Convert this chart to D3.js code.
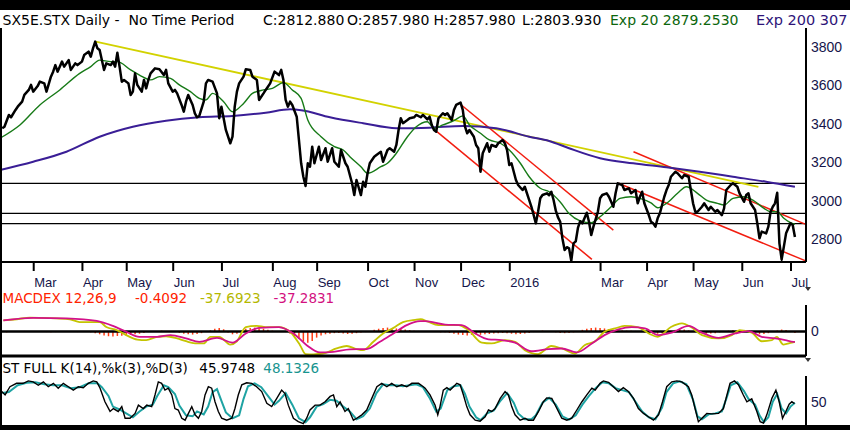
<!doctype html>

<html>
  <head>
    <script src="https://d3js.org/d3.v7.min.js"></script>
    <style>
      body { margin: 0; background: #fff; }
      svg { display: block; }
    </style>
  </head>
  <body>
    <div id="graphic"></div>
    <script>

// all series are [trading day, value], day 0 = 9 Feb 2015
var closes = [
  [1,3378],[2,3386],[4,3447],[5,3435],[7,3473],[8,3490],[10,3516],[11,3551],[13,3577],[14,3603],
  [15,3568],[17,3597],[18,3620],[20,3611],[21,3568],[23,3646],[24,3672],[25,3706],[26,3672],[28,3724],
  [29,3698],[31,3732],[32,3681],[34,3715],[35,3706],[37,3724],[38,3758],[40,3776],[41,3750],[42,3793],
  [43,3828],[44,3793],[45,3784],[47,3681],[48,3715],[50,3706],[51,3724],[52,3698],[53,3770],[54,3698],
  [55,3620],[56,3629],[58,3611],[59,3551],[60,3568],[61,3663],[62,3603],[64,3568],[65,3629],[66,3585],
  [67,3629],[68,3663],[70,3689],[72,3684],[74,3654],[75,3681],[76,3611],[78,3568],[79,3577],[80,3559],
  [82,3499],[83,3464],[84,3516],[85,3551],[87,3499],[88,3455],[89,3435],[90,3442],[92,3516],[93,3611],
  [94,3629],[96,3620],[98,3559],[99,3430],[100,3490],[101,3430],[102,3369],[104,3300],[105,3334],[106,3490],
  [107,3568],[108,3611],[110,3646],[111,3684],[113,3681],[114,3646],[116,3629],[117,3525],[119,3559],[120,3577],
  [122,3611],[124,3672],[126,3654],[127,3681],[128,3629],[129,3525],[130,3490],[131,3516],[132,3499],[134,3438],
  [135,3317],[136,3196],[137,3126],[138,3078],[139,3196],[140,3178],[141,3282],[142,3196],[144,3282],[145,3213],
  [147,3274],[148,3204],[150,3274],[151,3204],[153,3178],[154,3265],[156,3196],[157,3178],[159,3092],[160,3031],
  [161,3109],[163,3031],[164,3100],[165,3074],[166,3144],[167,3196],[169,3230],[170,3239],[172,3256],[173,3204],
  [175,3265],[176,3274],[178,3256],[179,3291],[180,3369],[181,3430],[182,3404],[184,3421],[185,3430],[187,3435],
  [188,3447],[190,3435],[191,3447],[193,3424],[194,3438],[195,3395],[196,3369],[197,3360],[198,3430],[200,3456],
  [201,3447],[202,3456],[204,3421],[205,3473],[206,3499],[208,3511],[209,3473],[210,3386],[211,3352],[212,3369],
  [214,3334],[215,3291],[216,3274],[217,3152],[218,3248],[220,3300],[221,3256],[222,3291],[224,3282],[225,3300],
  [227,3317],[228,3300],[229,3265],[230,3187],[231,3196],[233,3109],[234,3083],[236,3057],[237,3074],[239,3005],
  [240,2970],[242,2884],[243,2944],[244,3014],[245,3031],[247,3040],[248,3030],[249,3048],[250,3005],[251,2950],
  [252,2915],[253,2892],[254,2805],[255,2745],[256,2760],[257,2754],[258,2690],[259,2780],[260,2790],[261,2860],
  [262,2895],[263,2884],[265,2939],[266,2892],[267,2823],[268,2867],[270,2944],[271,3014],[272,3031],[274,3040],
  [275,3022],[277,2970],[278,3040],[279,3092],[281,3083],[282,3057],[284,3066],[285,3040],[287,3057],[288,2988],
  [289,3022],[290,3048],[291,2988],[293,2927],[294,2892],[295,2884],[296,2867],[297,2910],[298,2936],[300,3022],
  [301,3057],[302,3083],[303,3126],[305,3152],[306,3144],[308,3118],[309,3135],[311,3126],[312,3057],[313,2988],
  [314,2944],[315,2944],[317,2970],[318,2988],[320,2953],[321,2970],[323,2944],[324,2953],[326,2927],[327,2962],
  [328,3057],[330,3083],[331,3092],[333,3074],[334,3040],[336,2996],[337,3031],[338,3040],[339,2988],[341,2953],
  [342,2884],[343,2806],[344,2841],[346,2832],[347,2867],[348,2944],[349,2970],[350,2988],[351,3043],[352,2780],
  [353,2697],[354,2763],[355,2832],[357,2884],[358,2875],[359,2813]
];

var ema20 = [
  [0,3326],[9,3395],[18,3499],[27,3577],[36,3663],[41,3698],[45,3732],[50,3724],[53,3724],[59,3681],
  [63,3654],[68,3629],[72,3646],[77,3637],[81,3603],[86,3568],[90,3533],[93,3525],[96,3559],[101,3516],
  [105,3464],[110,3507],[114,3559],[119,3577],[123,3585],[128,3615],[132,3577],[136,3533],[139,3421],[145,3334],
  [151,3282],[155,3265],[158,3230],[163,3178],[166,3144],[172,3178],[175,3196],[179,3248],[184,3334],[188,3386],
  [193,3412],[196,3378],[200,3395],[205,3417],[209,3442],[212,3395],[217,3352],[221,3317],[226,3300],[230,3265],
  [235,3196],[239,3126],[244,3066],[248,3048],[253,2995],[257,2935],[262,2897],[267,2887],[271,2918],[276,2970],
  [280,3014],[285,3022],[289,3014],[294,2990],[297,2965],[301,2988],[306,3040],[310,3074],[315,3040],[319,3005],
  [324,2988],[327,2979],[331,3014],[336,3022],[340,3005],[345,2962],[348,2944],[351,2944],[354,2910],[357,2887],
  [359,2879]
];

var ema200 = [
  [0,3161],[15,3204],[30,3256],[45,3334],[60,3386],[75,3417],[90,3435],[105,3442],[120,3459],[131,3476],
  [136,3472],[149,3435],[164,3404],[179,3378],[194,3381],[209,3390],[224,3378],[239,3334],[248,3312],[257,3274],
  [271,3222],[286,3196],[301,3175],[316,3152],[331,3126],[346,3100],[359,3074]
];

var levels = [3092, 2936, 2882];
var yellowTrend = [[43.2,3828],[342.5,3074]];
var redTrends = [
  [[207.8,3504],[277,2849]],
  [[197.3,3360],[267.3,2697]],
  [[286.1,3256],[363.6,2880]],
  [[279.3,3092],[363.6,2690]]
];
var lowMarks = [258, 353];
var priceTicks = [2800, 3000, 3200, 3400, 3600, 3800];

var monthLabels = ["Mar","Apr","May","Jun","Jul","Aug","Sep","Oct","Nov","Dec","2016","Mar","Apr","May","Jun","Jul"];
var monthTickDays = [15, 37, 57, 78, 100, 123, 143, 166, 187, 208, 230, 271, 292, 313, 335, 357];

var macdLine = [
  [1.5,40],[7.5,44],[13.5,50],[19.6,49],[25.6,47],[31.6,44],[36,34],[40.7,34],[45,34],[48,16],
  [52.7,5],[57,-13],[62,-29],[66,-31],[71,-19],[75,-17],[80,-25],[84,-35],[89,-43],[92,-43],
  [95,-19],[99,-19],[104,-47],[107,-35],[111,16],[116,20],[120,16],[126,16],[131,-1],[135.5,-49],
  [138,-81],[141.5,-82],[146,-79],[152,-61],[156.6,-52],[161,-63],[164,-67],[168.6,-37],[173,-7],[177.7,13],
  [182,34],[187.5,42],[190,44],[193,36],[198,23],[207,23],[211.5,5],[217.6,-40],[222,-43],[228,-31],
  [232.6,-37],[237,-67],[243,-81],[249,-52],[253.7,-61],[259.7,-79],[264,-49],[268.8,-35],[273,-1],[277.8,11],
  [282,20],[288,16],[293,-7],[297,-19],[303,16],[308,29],[312,16],[317,-13],[324.5,-25],[330.5,-13],
  [334,5],[339.5,-4],[344,-35],[348.6,-31],[350.8,-19],[353.8,-47],[357.6,-40],[359,-37.7]
];

var macdSignal = [
  [1.5,40],[15,49],[30,47],[43.7,38],[51,20],[57,-1],[63,-19],[71,-19],[77,-13],[84,-25],
  [90,-37],[98,-23],[105,-40],[111,-7],[117,13],[126,16],[132.5,-7],[138.5,-49],[144.5,-75],[150.5,-73],
  [158,-64],[165.6,-63],[171.6,-37],[177.7,-7],[183.7,23],[189.7,37],[192,37],[201,25],[208.5,23],[214.6,-7],
  [220.6,-28],[226.6,-31],[232.6,-40],[240,-71],[247.7,-63],[253.7,-61],[260.5,-75],[267.3,-43],[273,-13],[279.3,8],
  [285.3,16],[291.3,11],[297.4,-13],[303.4,-4],[311,20],[317,-4],[324.5,-23],[332,-7],[338,1],[344,-19],
  [350,-25],[354.6,-31],[358.3,-37],[359,-37.3]
];

// histogram, one bar every 2 trading days starting at day 1
var macdHist = [
  -2,-3,-2,-1,1,2,1,0,-1,-2,  -2,-3,-2,-1,0,1,-1,-2,-1,0,
  -3,-6,-10,-14,-17,-18,-16,-15,-14,-12,  -10,-8,-5,-2,1,2,3,2,0,-2,
  -5,-8,-10,-11,-9,-6,-2,4,10,13,  8,-4,-10,-8,2,10,13,14,12,10,
  6,3,2,1,-2,-8,-16,-26,-36,-40,  -34,-22,-14,-10,-8,-6,-5,-7,-9,-8,
  -6,-4,-2,2,6,10,13,14,13,11,  9,7,5,3,2,1,0,-1,-2,-3,
  -3,-5,-8,-11,-13,-14,-12,-11,-12,-10,  -9,-7,-6,-5,-6,-8,-10,-9,-7,-5,
  -2,1,3,2,-1,-3,-5,-6,-5,-3,  2,6,10,13,14,13,11,9,7,5,
  4,3,3,2,0,-3,-6,-8,-8,-6,  -2,3,6,8,7,4,0,-4,-7,-8,
  -7,-6,-3,0,3,5,5,3,0,-3,  -7,-10,-9,-6,-2,4,7,5,-2,-5
];

var stochK = [
  [0.8,71],[2.3,64],[4.5,81],[7.5,88],[10.5,88],[12.8,93],[15,91],[17.3,84],[19.6,91],[21.8,81],
  [24.1,88],[26.3,78],[28.6,88],[30.9,81],[33.1,74],[35.4,81],[37.6,79],[39.9,88],[42.1,93],[43.7,91],
  [45.2,78],[47.4,50],[49.7,30],[51.2,36],[53.4,30],[55,40],[56.5,16],[58.7,16],[61,26],[62.5,43],
  [64.7,36],[66.3,43],[68.5,40],[70,64],[71.5,91],[73,88],[74.5,74],[76,78],[77.6,64],[79,36],
  [80.5,33],[82.1,16],[83.6,12],[85.1,26],[86.6,40],[88.1,23],[89.6,16],[91.1,30],[92.6,64],[94.1,81],
  [95.6,78],[97.1,50],[98.6,30],[100.1,16],[102.4,12],[104.7,16],[106.1,36],[107.6,64],[109.2,85],[111.4,89],
  [113.7,88],[115.9,81],[118.2,71],[120.5,47],[122.7,40],[125,57],[127.2,74],[128.7,67],[130.2,43],[132.5,16],
  [134.7,9],[137,5],[138.5,16],[140,33],[142.3,43],[144.5,43],[146.8,50],[149.1,61],[150.6,64],[152.1,40],
  [153.6,50],[155.8,30],[157.3,36],[159.6,12],[161.1,16],[163.4,23],[165.6,33],[167.9,57],[170.2,81],[172.4,88],
  [174.7,81],[176.9,88],[179.2,81],[181.4,85],[183.7,81],[186,88],[189,88],[191.2,81],[192,78],[194.2,64],
  [196.5,43],[197.7,23],[198.7,40],[200.2,74],[201.8,79],[203.3,74],[204.8,81],[206.3,88],[207.8,85],[209.3,64],
  [210.8,40],[212.3,23],[214.6,12],[216.8,10],[219.1,19],[220.6,33],[222.1,30],[223.6,36],[225.9,57],[228.1,71],
  [229.6,64],[231.1,40],[232.6,23],[234.9,12],[237.1,16],[238.6,12],[240.9,12],[243.2,30],[245.4,50],[246.9,58],
  [249.2,57],[251.5,36],[253.7,16],[256,12],[258.2,16],[260.5,33],[262.8,50],[265,64],[267.3,78],[268.8,74],
  [271,88],[272.5,93],[274.8,90],[277,81],[279.3,71],[281.5,79],[283.8,71],[286.1,57],[288.3,36],[290.6,26],
  [292.8,19],[295.1,12],[297.4,23],[299.2,50],[301.1,81],[303.4,91],[305.7,93],[307.9,91],[310.9,81],[312.4,64],
  [313.9,36],[315.4,9],[317,16],[319.2,26],[321.5,25],[324.5,26],[326.7,36],[328.3,64],[329.7,88],[331.7,93],
  [333.5,85],[335.7,64],[337.3,50],[339.5,56],[341.8,30],[343.3,9],[344.8,6],[346.3,23],[348.6,57],[350.4,74],
  [351.9,50],[353.4,16],[354.9,30],[356.4,45],[357.6,50],[358.8,46]
];

var stochD = [
  [1,68],[4,70],[8,84],[12,89],[16,90],[20,86],[24,84],[28,84],[32,78],[36,80],
  [40,88],[44,88],[46,80],[49,62],[51,40],[54,34],[57,26],[60,18],[63,30],[66,40],
  [69,44],[71,62],[74,84],[76,80],[79,66],[81,42],[84,22],[87,20],[89,30],[92,24],
  [94,40],[96,70],[98,76],[100,52],[102,28],[105,16],[108,22],[110,56],[112,82],[115,88],
  [118,80],[121,62],[124,44],[126,52],[129,68],[132,44],[135,16],[138,8],[140,18],[143,40],
  [146,45],[149,54],[152,52],[155,40],[158,30],[161,14],[164,20],[167,36],[170,68],[173,86],
  [176,84],[179,84],[182,82],[185,84],[188,86],[191,80],[194,58],[197,30],[199,36],[202,74],
  [205,82],[208,84],[210,66],[212,40],[215,18],[217,12],[220,26],[223,32],[226,52],[229,68],
  [232,48],[234,26],[237,14],[240,14],[242,22],[245,48],[248,58],[251,44],[254,20],[257,13],
  [260,22],[263,44],[266,62],[269,78],[272,90],[275,88],[278,78],[281,74],[284,70],[287,50],
  [290,30],[293,18],[296,14],[299,38],[301,70],[304,88],[307,92],[310,86],[313,54],[315,20],
  [317,14],[320,24],[323,26],[326,30],[328,56],[330,84],[333,90],[336,72],[338,56],[341,44],
  [343,22],[345,8],[347,18],[349,50],[351,66],[353,36],[355,26],[357,40],[359,48]
];

// layout
var width = 850, height = 430;
var plotRight = 806;
var navy = "#15154a";

var svg = d3.select("#graphic").append("svg")
    .attr("width", width)
    .attr("height", height)
    .style("font-family", "'DejaVu Sans', sans-serif");

svg.append("rect").attr("width", width).attr("height", height).attr("fill", "#fff");

var x = d3.scaleLinear().domain([0, 364]).range([0, plotRight]);
var yPrice = d3.scaleLinear().domain([2800, 3800]).range([239.5, 47]);
var yMacd = d3.scaleLinear().domain([-88, 88]).range([356, 307]);
var yStoch = d3.scaleLinear().domain([0, 100]).range([426, 377.5]);

function lineFor(yScale, curve) {
  return d3.line().x(d => x(d[0])).y(d => yScale(d[1])).curve(curve || d3.curveLinear);
}

function label(txt, xPos, yPos, color, size) {
  svg.append("text")
    .attr("x", xPos)
    .attr("y", yPos)
    .style("font-size", size + "px")
    .style("fill", color)
    .style("white-space", "pre")
    .text(txt);
}

svg.append("defs").append("clipPath").attr("id", "clipPrice")
  .append("rect").attr("x", 0).attr("y", 28).attr("width", plotRight).attr("height", 234);

// price panel
var gPrice = svg.append("g").attr("clip-path", "url(#clipPrice)");

gPrice.selectAll(".level")
  .data(levels)
  .enter()
  .append("line")
  .attr("x1", 0)
  .attr("x2", plotRight)
  .attr("y1", d => yPrice(d))
  .attr("y2", d => yPrice(d))
  .style("stroke", "#000")
  .style("stroke-width", "1.2px");

gPrice.append("path")
  .attr("d", lineFor(yPrice)(yellowTrend))
  .style("fill", "none")
  .style("stroke", "#d2d200")
  .style("stroke-width", "1.8px");

gPrice.selectAll(".red")
  .data(redTrends)
  .enter()
  .append("path")
  .attr("d", d => lineFor(yPrice)(d))
  .style("fill", "none")
  .style("stroke", "#f21d10")
  .style("stroke-width", "1.5px");

gPrice.append("path")
  .attr("d", lineFor(yPrice, d3.curveMonotoneX)(ema200))
  .style("fill", "none")
  .style("stroke", "#3a1e96")
  .style("stroke-width", "2px");

gPrice.append("path")
  .attr("d", lineFor(yPrice, d3.curveMonotoneX)(ema20))
  .style("fill", "none")
  .style("stroke", "#177a17")
  .style("stroke-width", "1.4px");

gPrice.append("path")
  .attr("d", lineFor(yPrice)(closes))
  .style("fill", "none")
  .style("stroke", "#000")
  .style("stroke-width", "2.5px")
  .style("stroke-linejoin", "round");

svg.selectAll(".lowmark")
  .data(lowMarks)
  .enter()
  .append("line")
  .attr("x1", d => x(d))
  .attr("x2", d => x(d))
  .attr("y1", 254)
  .attr("y2", 262)
  .style("stroke", "#000")
  .style("stroke-width", "1.5px");

// MACD panel
svg.selectAll(".hist")
  .data(macdHist)
  .enter()
  .append("line")
  .attr("x1", (d, i) => x(1 + i * 2))
  .attr("x2", (d, i) => x(1 + i * 2))
  .attr("y1", yMacd(0))
  .attr("y2", d => yMacd(d))
  .style("stroke", "#ff3c14")
  .style("stroke-width", "1.5px");

svg.append("line")
  .attr("x1", 0).attr("x2", plotRight)
  .attr("y1", yMacd(0)).attr("y2", yMacd(0))
  .style("stroke", "#000")
  .style("stroke-width", "2.5px");

svg.append("path")
  .attr("d", lineFor(yMacd, d3.curveMonotoneX)(macdLine))
  .style("fill", "none")
  .style("stroke", "#c4c400")
  .style("stroke-width", "1.8px");

svg.append("path")
  .attr("d", lineFor(yMacd, d3.curveMonotoneX)(macdSignal))
  .style("fill", "none")
  .style("stroke", "#d3118a")
  .style("stroke-width", "1.8px");

// stochastic panel
svg.append("path")
  .attr("d", lineFor(yStoch)(stochD))
  .style("fill", "none")
  .style("stroke", "#1ea3a3")
  .style("stroke-width", "2px");

svg.append("path")
  .attr("d", lineFor(yStoch)(stochK))
  .style("fill", "none")
  .style("stroke", "#000")
  .style("stroke-width", "1.4px");

// frame and borders
svg.append("rect").attr("x", 0).attr("y", 0).attr("width", width).attr("height", 10).attr("fill", "#000");
svg.append("rect").attr("x", 0).attr("y", 425).attr("width", width).attr("height", 5).attr("fill", "#000");
svg.append("rect").attr("x", 0).attr("y", 28).attr("width", 2).attr("height", 398).attr("fill", "#000");

[[262, 2], [356, 3]].forEach(function (b) {
  svg.append("line")
    .attr("x1", 0).attr("x2", plotRight)
    .attr("y1", b[0]).attr("y2", b[0])
    .style("stroke", "#000")
    .style("stroke-width", b[1] + "px");
});

[[28, 262], [305, 356], [376, 426]].forEach(function (s) {
  svg.append("line")
    .attr("x1", plotRight).attr("x2", plotRight)
    .attr("y1", s[0]).attr("y2", s[1])
    .style("stroke", "#000")
    .style("stroke-width", "2px");
});

svg.append("path").attr("d", "M805,287L811,287L808,291Z").attr("fill", "#333");
svg.append("path").attr("d", "M805,358L811,358L808,362Z").attr("fill", "#333");

// axes
function rightAxis(scale, ticks) {
  var g = svg.append("g")
    .attr("transform", "translate(" + plotRight + ",0)")
    .call(d3.axisRight(scale).tickValues(ticks).tickFormat(d3.format("d")).tickSize(0).tickPadding(5));
  g.select(".domain").remove();
  g.selectAll("text").style("font-size", "14px").style("fill", navy);
}
rightAxis(yPrice, priceTicks);
rightAxis(yMacd, [0]);
rightAxis(yStoch, [50]);

var xAxis = d3.axisBottom(x)
  .tickValues(monthTickDays)
  .tickFormat((d, i) => monthLabels[i])
  .tickSizeInner(9)
  .tickSizeOuter(0)
  .tickPadding(7);

var gx = svg.append("g")
  .attr("transform", "translate(0,262)")
  .call(xAxis);
gx.select(".domain").remove();
gx.selectAll("line").style("stroke", "#000").style("stroke-width", "2px");
gx.selectAll("text")
  .attr("x", 0.5)
  .style("text-anchor", "start")
  .style("font-size", "13px")
  .style("fill", navy);

// header and legends
label("SX5E.STX Daily -  No Time Period", 2.5, 25, "#000", 14);
label("C:2812.880", 263, 25, "#000", 14);
label("O:2857.980", 347, 25, "#000", 14);
label("H:2857.980", 433.5, 25, "#000", 14);
label("L:2803.930", 522, 25, "#000", 14);
label("Exp 20 2879.2530", 610, 25, "#0c660c", 14);
label("Exp 200 307", 756, 25, "#2e1478", 14.5);

label("MACDEX 12,26,9", 2.5, 303, "#ff2200", 13.5);
label("-0.4092", 135, 303, "#ff2200", 13.5);
label("-37.6923", 200, 303, "#b4b800", 13.5);
label("-37.2831", 273.5, 303, "#d3117f", 13.5);

label("ST FULL K(14),%k(3),%D(3)", 2.5, 373, "#000", 13.5);
label("45.9748", 199.3, 373, "#000", 13.5);
label("48.1326", 263.3, 373, "#17948f", 13.5);

    </script>
  </body>
</html>
